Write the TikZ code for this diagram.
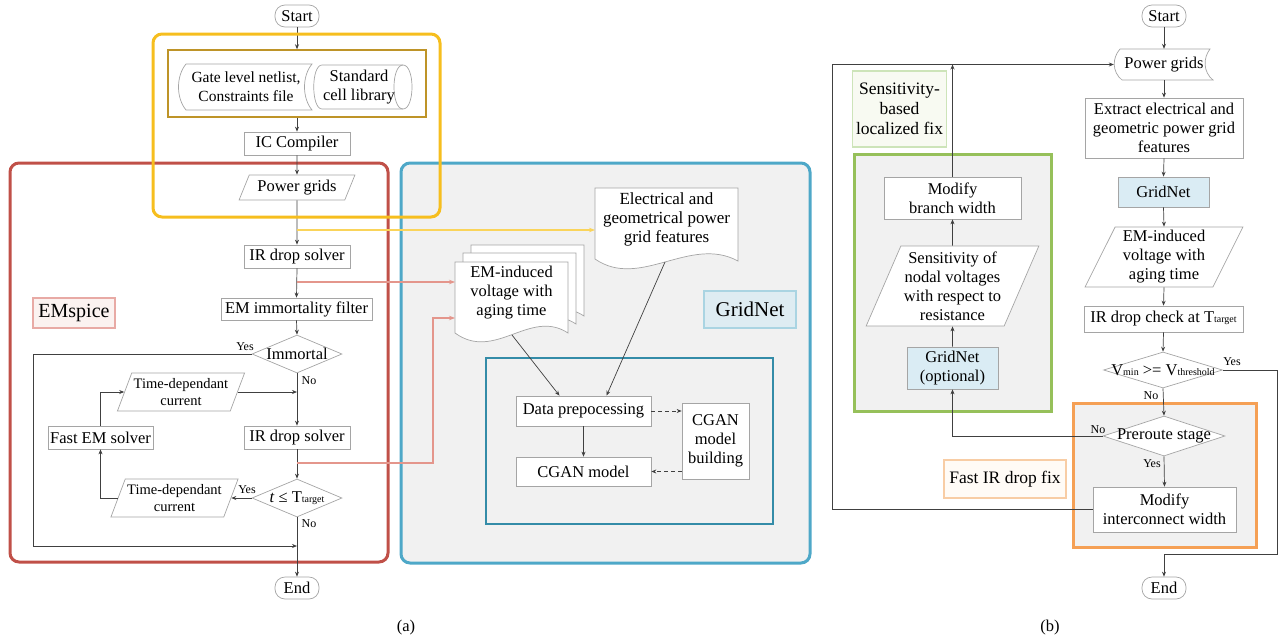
\documentclass[tikz,border=0pt]{standalone}
\usepackage{fontspec}
\setmainfont{Liberation Serif}
\usetikzlibrary{shapes.geometric,arrows.meta}
\definecolor{nodegray}{RGB}{165,165,165}
\definecolor{conn}{RGB}{64,64,64}
\definecolor{ygold}{RGB}{246,190,30}
\definecolor{dgold}{RGB}{190,148,40}
\definecolor{redb}{RGB}{192,80,72}
\definecolor{blueb}{RGB}{78,168,200}
\definecolor{tealb}{RGB}{52,140,168}
\definecolor{panelgray}{RGB}{241,241,241}
\definecolor{pinkl}{RGB}{228,150,140}
\definecolor{yline}{RGB}{250,212,90}
\definecolor{gnfill}{RGB}{218,236,244}
\definecolor{greenb}{RGB}{150,192,90}
\definecolor{orangeb}{RGB}{245,160,85}
\definecolor{emspb}{RGB}{232,170,165}
\definecolor{emspf}{RGB}{251,242,240}
\definecolor{gnlb}{RGB}{170,212,226}
\definecolor{gnlf}{RGB}{222,236,242}
\definecolor{firb}{RGB}{248,205,165}
\definecolor{firf}{RGB}{255,251,246}
\definecolor{slb}{RGB}{205,228,185}
\definecolor{slf}{RGB}{248,250,242}
\newcommand\tsub[1]{{\fontsize{10}{10}\selectfont #1}}
\begin{document}
\begin{tikzpicture}[x=1pt,y=-1pt,
  every node/.style={font=\fontsize{16.5}{19}\selectfont},
  box/.style={draw=nodegray, fill=white, line width=0.7pt, align=center, inner sep=2pt},
  term/.style={box, rounded corners=10pt, minimum width=44pt, minimum height=22pt},
  para/.style={box, trapezium, trapezium left angle=65, trapezium right angle=115, trapezium stretches=true},
  dia/.style={draw=nodegray, fill=white, line width=0.7pt, diamond, inner sep=0pt},
  plain/.style={align=center, inner sep=0pt},
  docstyle/.style={draw=nodegray, fill=white, line width=0.7pt},
  lbl/.style={font=\fontsize{12}{12}\selectfont, inner sep=0pt},
  arr/.style={draw=conn, line width=0.7pt, -{Stealth[length=5pt,width=4pt]}},
  dasharr/.style={arr, dash pattern=on 4pt off 3pt},
  pinkarr/.style={draw=pinkl, line width=1.2pt, -{Stealth[length=6pt,width=4.5pt]}},
  yarr/.style={draw=yline, line width=1.2pt, -{Stealth[length=6pt,width=4.5pt]}},
  bigpanel/.style={line width=3pt, rounded corners=9pt},
  tag/.style={line width=1.5pt, align=center},
  small/.style={font=\fontsize{14.5}{16.5}\selectfont}
]
\useasboundingbox (0,0) rectangle (1283,643);

% ================= (a) panels =================
\node[bigpanel, draw=blueb, fill=panelgray, minimum width=409pt, minimum height=400pt] (gnpanel) at (605.5,363) {};
\node[bigpanel, draw=redb, minimum width=378pt, minimum height=399pt] (empanel) at (199,362.5) {};
\node[draw=tealb, line width=1.8pt, minimum width=287pt, minimum height=166pt] (cganpanel) at (629.5,441) {};

% ================= (a) nodes =================
\node[term] (startA) at (297,16) {Start};
\node[draw=dgold, line width=1.5pt, fill=white, minimum width=258pt, minimum height=67pt] (inputs) at (297,83.5) {};
\draw[docstyle] (186,64) -- (312,64) .. controls (302,76) and (302,98) .. (312,110) -- (186,110) .. controls (176,98) and (176,76) .. (186,64) -- cycle;
\node[plain, font=\fontsize{15.5}{19}\selectfont] (netlist) at (246,87) {Gate level netlist,\\Constraints file};
\draw[docstyle] (322,65) -- (403,65) .. controls (415,65) and (415,109) .. (403,109) -- (322,109) .. controls (311,109) and (311,65) .. (322,65) -- cycle;
\draw[draw=nodegray, line width=0.7pt] (403,65) .. controls (391,65) and (391,109) .. (403,109);
\node[plain] (stdcell) at (359,87) {Standard\\cell library};

\node[box, minimum width=106pt, minimum height=23pt] (ic) at (297,143.5) {IC Compiler};
\node[para, minimum width=116pt, minimum height=25pt] (pgA) at (297,187.5) {Power grids};
\node[box, minimum width=106pt, minimum height=23pt] (ir1) at (297,256.5) {IR drop solver};
\node[box, minimum width=151pt, minimum height=22pt] (emf) at (296.5,309) {EM immortality filter};
\node[dia, minimum width=90pt, minimum height=38pt] (imm) at (297,354) {};
\node[plain] (immt) at (297,354) {Immortal};
\node[para, small, minimum width=124pt, minimum height=38pt] (tdc1) at (181,392) {Time-dependant\\current};
\node[box, minimum width=105pt, minimum height=23pt] (fem) at (100.5,437.5) {Fast EM solver};
\node[box, minimum width=106pt, minimum height=23pt] (ir2) at (297,437.5) {IR drop solver};
\node[dia, minimum width=90pt, minimum height=38pt] (tdia) at (297,498) {};
\node[plain] (tdiat) at (297,498) {\textit{t} ≤ T\tsub{target}};
\node[para, small, minimum width=125pt, minimum height=38pt] (tdc2) at (174.5,498) {Time-dependant\\current};
\node[term] (endA) at (297,588) {End};
\node[tag, draw=emspb, fill=emspf, minimum width=82pt, minimum height=30pt, font=\fontsize{20}{20}\selectfont] (emspice) at (74,313) {EMspice};

% GridNet part
\begin{scope}[shift={(16,-17)}]
\draw[docstyle] (455,262) -- (568,262) -- (568,333) .. controls (530,308) and (495,362) .. (455,333) -- cycle;
\end{scope}
\begin{scope}[shift={(8,-9)}]
\draw[docstyle] (455,262) -- (568,262) -- (568,333) .. controls (530,308) and (495,362) .. (455,333) -- cycle;
\end{scope}
\draw[docstyle] (455,262) -- (568,262) -- (568,333) .. controls (530,308) and (495,362) .. (455,333) -- cycle;
\node[plain] (emv) at (511.5,293) {EM-induced\\voltage with\\aging time};
\coordinate (emvb) at (512,335);
\coordinate (emvl) at (455,293);
\coordinate (emvl2) at (455,318);

\draw[docstyle] (595,188) -- (738,188) -- (738,261) .. controls (690,235) and (640,290) .. (595,259) -- cycle;
\node[plain, font=\fontsize{17}{19}\selectfont] (feat) at (666.5,219) {Electrical and\\geometrical power\\grid features};
\coordinate (featb) at (665,262);
\coordinate (featl) at (595,230);

\node[tag, draw=gnlb, fill=gnlf, minimum width=92pt, minimum height=37pt, font=\fontsize{21}{21}\selectfont] (gnl) at (750,309.5) {GridNet};
\node[box, minimum width=135pt, minimum height=30pt] (dp) at (583.5,411) {Data prepocessing};
\node[box, minimum width=135pt, minimum height=29pt] (cm) at (583.5,471.5) {CGAN model};
\node[box, minimum width=67pt, minimum height=76pt] (cgb) at (715.5,441) {CGAN\\model\\building};

% ================= (a) connectors =================
\draw[arr] (startA.south) -- (inputs.north);
\draw[arr] (inputs.south) -- (ic.north);
\draw[arr] (ic.south) -- (pgA.north);
\draw[arr] (pgA.south) -- (ir1.north);
\draw[arr] (ir1.south) -- (emf.north);
\draw[arr] (emf.south) -- (imm.north);
\draw[arr] (imm.south) -- (ir2.north);
\draw[arr] (ir2.south) -- (tdia.north);
\draw[arr] (tdia.south) -- (endA.north);
\coordinate (loopA) at (33,546);
\coordinate (joinA) at (297,546);
\draw[arr] (imm.west) -| (loopA) -- (joinA);
\draw[arr] (fem.north) |- (tdc1.left side);
\draw[arr] (tdc1.right side) -- (tdc1.right side -| ir2.north);
\draw[arr] (tdia.west) -- (tdc2.right side);
\draw[arr] (tdc2.left side) -| (fem.south);
\node[lbl] (yes1) at (245,347) {Yes};
\node[lbl] (no1) at (309,381) {No};
\node[lbl] (yes2) at (247,490) {Yes};
\node[lbl] (no2) at (309,524) {No};

\coordinate (yl) at (297,230);
\draw[yarr] (yl) -- (yl -| featl);
\coordinate (pk1) at (297,282);
\draw[pinkarr] (pk1) -- (pk1 -| emvl);
\coordinate (pk2) at (297,463);
\coordinate (pk2c) at (433,463);
\draw[pinkarr] (pk2) -- (pk2c) |- (emvl2);

\draw[arr] (emvb) -- ([xshift=-24pt]dp.north);
\draw[arr] (featb) -- ([xshift=23pt]dp.north);
\draw[arr] (dp.south) -- (cm.north);
\draw[dasharr] (dp.east) -- (dp.east -| cgb.west);
\draw[dasharr] (cm.east -| cgb.west) -- (cm.east);

\node[bigpanel, draw=ygold, minimum width=287pt, minimum height=183pt] (flowbox) at (296.5,125.5) {};
\node (capa) at (406,628) {(a)};

% ================= (b) =================
\node[draw=greenb, fill=panelgray, line width=3pt, minimum width=197pt, minimum height=257pt] (greenp) at (952.5,282.5) {};
\node[draw=orangeb, fill=panelgray, line width=3pt, minimum width=183pt, minimum height=144pt] (orangep) at (1164.5,475) {};

\node[term] (startB) at (1164,16) {Start};
\draw[docstyle] (1120,49) -- (1210,49) .. controls (1203,58) and (1203,72) .. (1213,80) -- (1122,80) .. controls (1112,72) and (1112,58) .. (1120,49) -- cycle;
\node[plain, minimum width=100pt, minimum height=31pt] (pgB) at (1164,64.5) {Power grids};
\node[box, minimum width=158pt, minimum height=60pt] (extract) at (1164,128) {Extract electrical and\\geometric power grid\\features};
\node[box, fill=gnfill, minimum width=91pt, minimum height=30pt] (gnB) at (1163.5,192) {GridNet};
\node[para, minimum width=158pt, minimum height=60pt] (emB) at (1164,257) {EM-induced\\voltage with\\aging time};
\node[box, minimum width=159pt, minimum height=26pt] (irc) at (1163.5,319) {IR drop check at T\tsub{target}};
\node[dia, minimum width=119pt, minimum height=36pt] (vmin) at (1163,370) {};
\node[plain] (vmint) at (1163,370) {V\tsub{min} >= V\tsub{threshold}};
\node[dia, minimum width=122pt, minimum height=40pt] (pre) at (1164,436) {};
\node[plain] (pret) at (1164,436) {Preroute stage};
\node[box, minimum width=143pt, minimum height=45pt] (mic) at (1164.5,509.5) {Modify\\interconnect width};
\node[tag, draw=firb, fill=firf, minimum width=122pt, minimum height=38pt, font=\fontsize{17.5}{19}\selectfont] (fir) at (1005,479) {Fast IR drop fix};
\node[term] (endB) at (1164,588) {End};

\node[tag, draw=slb, fill=slf, minimum width=91pt, minimum height=76pt, font=\fontsize{17.5}{20}\selectfont] (slfix) at (899.5,109) {Sensitivity-\\based\\localized fix};
\node[box, minimum width=137pt, minimum height=42pt] (mbw) at (952.5,198) {Modify\\branch width};
\node[para, minimum width=173pt, minimum height=80pt] (sens) at (952.5,286) {Sensitivity of\\nodal voltages\\with respect to\\resistance};
\node[box, fill=gnfill, minimum width=91pt, minimum height=42pt] (gno) at (952.5,368) {GridNet\\(optional)};

\draw[arr] (startB.south) -- (pgB.north);
\draw[arr] (pgB.south) -- (extract.north);
\draw[arr] (extract.south) -- (gnB.north);
\draw[arr] (gnB.south) -- (emB.north);
\draw[arr] (emB.south) -- (irc.north);
\draw[arr] (irc.south) -- (vmin.north);
\draw[arr] (vmin.south) -- (pre.north);
\draw[arr] (pre.south) -- (mic.north);
\coordinate (yesR) at (1277,370);
\coordinate (yesRb) at (1277,554);
\coordinate (endBj) at (1164,554);
\draw[arr] (vmin.east) -- (yesR) -- (yesRb) -- (endBj) -- (endB.north);
\draw[arr] (pre.west) -| (gno.south);
\draw[arr] (gno.north) -- (sens.south);
\draw[arr] (sens.north) -- (mbw.south);
\coordinate (loopBT) at (832,64.5);
\draw[arr] (mic.west) -| (loopBT) -- (pgB.west);
\draw[arr] (mbw.north) -- (mbw.north |- pgB.west);
\node[lbl] (yes3) at (1232,362) {Yes};
\node[lbl] (no3) at (1151,396) {No};
\node[lbl] (no4) at (1098,430) {No};
\node[lbl] (yes4) at (1152,464) {Yes};
\node (capb) at (1050,628) {(b)};
\end{tikzpicture}
\end{document}
